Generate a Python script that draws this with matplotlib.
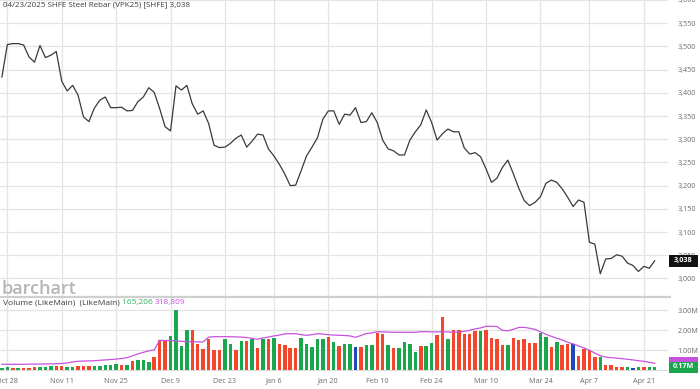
import matplotlib
matplotlib.use('Agg')
import matplotlib.pyplot as plt
import matplotlib.transforms as mtransforms
from matplotlib.patches import Rectangle
import pandas as pd

plt.rcParams['font.family'] = ['Open Sans', 'DejaVu Sans']

# ---------------- data ----------------
holidays = ['2025-01-01', '2025-01-28', '2025-01-29', '2025-01-30', '2025-01-31',
            '2025-02-03', '2025-02-04', '2025-04-04']
dates = [d for d in pd.bdate_range('2024-10-25', '2025-04-23')
         if d.strftime('%Y-%m-%d') not in holidays]

price = [3434, 3504, 3506, 3506, 3503, 3477, 3466, 3502, 3476, 3481,
         3489, 3425, 3404, 3416, 3395, 3348, 3338, 3367, 3384, 3391,
         3368, 3368, 3369, 3361, 3362, 3381, 3391, 3411, 3401, 3366,
         3327, 3318, 3415, 3406, 3416, 3376, 3354, 3361, 3334, 3287,
         3282, 3283, 3291, 3302, 3309, 3283, 3296, 3311, 3309, 3279,
         3264, 3246, 3225, 3200, 3201, 3232, 3264, 3283, 3303, 3343,
         3361, 3361, 3332, 3354, 3352, 3368, 3336, 3338, 3357, 3336,
         3298, 3279, 3275, 3266, 3266, 3298, 3316, 3331, 3363, 3336,
         3298, 3312, 3322, 3316, 3316, 3281, 3268, 3271, 3262, 3236,
         3207, 3216, 3239, 3255, 3226, 3195, 3168, 3157, 3164, 3176,
         3205, 3212, 3207, 3193, 3175, 3155, 3169, 3164, 3078, 3074,
         3010, 3042, 3043, 3051, 3048, 3033, 3028, 3015, 3026, 3022,
         3038]

volume = [0.13, 0.18, 0.10, 0.12, 0.10, 0.12, 0.15, 0.15, 0.18, 0.22,
          0.22, 0.20, 0.17, 0.18, 0.23, 0.23, 0.23, 0.23, 0.20, 0.27,
          0.27, 0.32, 0.27, 0.27, 0.45, 0.52, 0.52, 0.42, 0.68, 1.52,
          1.52, 1.72, 3.02, 1.22, 2.00, 2.00, 1.32, 1.08, 1.55, 1.00,
          1.00, 1.57, 1.30, 1.02, 1.47, 1.47, 1.57, 1.10, 1.55, 1.55,
          1.60, 1.30, 1.25, 1.10, 1.10, 1.63, 1.30, 1.17, 1.57, 1.57,
          1.68, 1.42, 1.22, 1.30, 1.30, 1.17, 1.17, 1.25, 1.25, 1.85,
          1.80, 1.27, 1.12, 1.12, 1.40, 1.32, 0.92, 1.23, 1.23, 1.37,
          1.78, 2.66, 1.58, 2.02, 2.02, 1.80, 1.80, 1.97, 1.97, 2.02,
          1.63, 1.57, 1.26, 1.26, 1.60, 1.50, 1.57, 1.35, 1.35, 1.88,
          1.66, 1.16, 1.42, 1.28, 1.32, 1.32, 0.72, 1.05, 1.02, 0.68,
          0.66, 0.28, 0.28, 0.17, 0.15, 0.15, 0.14, 0.15, 0.16, 0.16,
          0.165]

vol_dir = ('ggrgrrrgggrrggrrrgggggrgrgggrrrggggrrrrrrggrgrgrgrgrrrrgggggrgrgg'
           'brggrrgrggggrggrrgrrrrrgrrrrgrrrrrggrgrrbrrrrgrrrrgbgrg')

vol_ma = [0.30, 0.30, 0.30, 0.30, 0.30, 0.31, 0.31, 0.31, 0.32, 0.32,
          0.33, 0.34, 0.37, 0.42, 0.45, 0.46, 0.47, 0.48, 0.50, 0.52,
          0.54, 0.56, 0.59, 0.63, 0.72, 0.82, 0.90, 0.97, 1.02, 1.50,
          1.49, 1.48, 1.47, 1.45, 1.43, 1.42, 1.42, 1.42, 1.66, 1.68,
          1.68, 1.68, 1.68, 1.67, 1.66, 1.64, 1.60, 1.55, 1.62, 1.66,
          1.72, 1.76, 1.82, 1.83, 1.83, 1.78, 1.75, 1.78, 1.83, 1.81,
          1.78, 1.76, 1.75, 1.74, 1.72, 1.65, 1.74, 1.84, 1.87, 1.93,
          1.92, 1.91, 1.90, 1.90, 1.90, 1.90, 1.90, 1.93, 1.93, 1.92,
          1.92, 1.93, 1.92, 1.90, 1.92, 1.95, 2.00, 2.07, 2.12, 2.20,
          2.20, 2.19, 2.00, 1.97, 2.05, 2.14, 2.15, 2.10, 2.05, 1.92,
          1.80, 1.70, 1.60, 1.52, 1.40, 1.32, 1.22, 1.12, 1.00, 0.86,
          0.73, 0.66, 0.63, 0.61, 0.58, 0.55, 0.52, 0.48, 0.45, 0.40,
          0.35]

tick_dates = ['2024-10-28', '2024-11-11', '2024-11-25', '2024-12-09', '2024-12-23',
              '2025-01-06', '2025-01-20', '2025-02-10', '2025-02-24', '2025-03-10',
              '2025-03-24', '2025-04-07', '2025-04-21']
tick_labels = ['Oct 28', 'Nov 11', 'Nov 25', 'Dec 9', 'Dec 23', 'Jan 6', 'Jan 20',
               'Feb 10', 'Feb 24', 'Mar 10', 'Mar 24', 'Apr 7', 'Apr 21']

price_ticks = list(range(3000, 3601, 50))
vol_ticks = [1.0, 2.0, 3.0]

title = '04/23/2025 SHFE Steel Rebar (VPK25) [SHFE] 3,038'
last_vol_text = '165,206'
last_ma_text = '318,809'

# ---------------- styling ----------------
W, H = 700, 389
GRID = '#e4e4e4'
TXT = '#6b6b6b'
GREEN = '#19a64c'
RED = '#f3462b'
BLUE = '#2247b6'
PURPLE = '#c653de'
dir_color = {'g': GREEN, 'r': RED, 'b': BLUE}

x = list(range(len(dates)))
date_str = [d.strftime('%Y-%m-%d') for d in dates]
tick_pos = [date_str.index(t) for t in tick_dates]

fig = plt.figure(figsize=(W / 100, H / 100), dpi=100)
plot_w = 668

def fx(px):
    return px / W

def fy(py):
    return 1 - py / H

ax1 = fig.add_axes([0, fy(297), fx(plot_w), 297 / H])
ax2 = fig.add_axes([0, fy(372), fx(plot_w), (372 - 298) / H])

xlim = (-1.9 / 5.44, (plot_w - 1.9) / 5.44)

for ax in (ax1, ax2):
    ax.set_xlim(*xlim)
    for s in ax.spines.values():
        s.set_visible(False)
    ax.set_xticks(tick_pos)
    ax.grid(True, color=GRID, linewidth=0.9)
    ax.set_axisbelow(True)
    ax.yaxis.tick_right()
    ax.tick_params(axis='both', length=0, labelsize=5.2, labelcolor=TXT)
    ax.tick_params(axis='y', pad=7)

# price panel
ax1.set_ylim(2960, 3596.4)
ax1.set_yticks(price_ticks)
ax1.set_yticklabels([f'{v:,}' for v in price_ticks])
ax1.set_xticklabels([])
ax1.plot(x, price, color='#3a3a3a', linewidth=0.9, zorder=3)

# volume panel
ax2.set_ylim(-0.085, 3.615)
ax2.set_yticks(vol_ticks)
ax2.set_yticklabels([f'{v:.2f}M' for v in vol_ticks])
ax2.set_xticklabels(tick_labels)
ax2.tick_params(axis='x', pad=4)
ax2.bar(x, volume, width=0.64, color=[dir_color[c] for c in vol_dir], zorder=3)
ax2.plot(x, vol_ma, color=PURPLE, linewidth=0.9, zorder=4)
ax2.axhline(0, color='#dcdcdc', linewidth=0.8, zorder=2)

# separator line between panels
fig.add_artist(plt.Line2D([0, fx(plot_w + 2)], [fy(297.3), fy(297.3)],
                          color='#cfcfcf', linewidth=1.6))

# title and watermark
fig.text(fx(3), fy(1.5), title, ha='left', va='top', fontsize=5.8, color='#3c3c3c')
fig.text(fx(1.5), fy(293.5), 'barchart', ha='left', va='baseline', fontsize=13,
         color='#b5b5b5', fontweight='semibold')

vfs = 6.0
t1 = ax2.text(0.0045, 0.985, 'Volume (LikeMain)  (LikeMain) ', transform=ax2.transAxes,
              ha='left', va='top', fontsize=vfs, color='#3c3c3c')
t2 = ax2.annotate(last_vol_text + ' ', xy=(1, 0), xycoords=t1, ha='left', va='bottom',
                  fontsize=vfs, color='#2ab35f')
ax2.annotate(last_ma_text, xy=(1, 0), xycoords=t2, ha='left', va='bottom',
             fontsize=vfs, color=PURPLE)

# right-hand value boxes
tr1 = mtransforms.blended_transform_factory(ax1.transAxes, ax1.transData)
box_x0 = 669 / plot_w
box_w = (698 - 669) / plot_w
ph = 12 * 2.143
ax1.add_patch(Rectangle((box_x0, price[-1] - ph / 2), box_w, ph, transform=tr1,
                        facecolor='#111111', edgecolor='none', clip_on=False, zorder=10))
ax1.text(box_x0 + box_w / 2, price[-1], f'{price[-1]:,}', transform=tr1, ha='center',
         va='center', fontsize=5.2, color='white', fontweight='bold', zorder=11,
         clip_on=False)

tr2 = mtransforms.blended_transform_factory(ax2.transAxes, ax2.transData)
vh = 11 / 20
ax2.add_patch(Rectangle((box_x0, 0.115), box_w, vh, transform=tr2,
                        facecolor=PURPLE, edgecolor='none', clip_on=False, zorder=10))
ax2.add_patch(Rectangle((box_x0, volume[-1] - vh / 2), box_w, vh, transform=tr2,
                        facecolor=GREEN, edgecolor='none', clip_on=False, zorder=11))
ax2.text(box_x0 + box_w / 2, volume[-1], f'{volume[-1]:.2f}M', transform=tr2,
         ha='center', va='center', fontsize=5.2, color='white', fontweight='bold',
         zorder=12, clip_on=False)

fig.savefig('out.png', dpi=100)
